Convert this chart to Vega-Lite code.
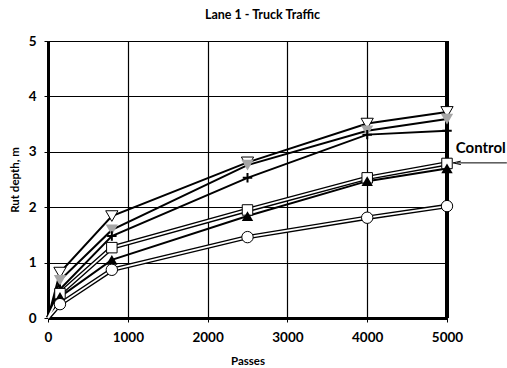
{
  "$schema": "https://vega.github.io/schema/vega-lite/v6.json",
  "width": 399,
  "height": 277,
  "autosize": "none",
  "padding": {"left": 48, "top": 41, "right": 60, "bottom": 50},
  "background": "white",
  "title": {
    "text": "Lane 1 - Truck Traffic",
    "font": "Lato",
    "fontSize": 12.5,
    "fontWeight": "bold",
    "color": "black",
    "anchor": "middle",
    "offset": 13,
    "dx": 15
  },
  "config": {
    "view": {"stroke": null},
    "axis": {
      "labelFont": "Lato",
      "labelFontSize": 13.5,
      "labelFontWeight": "bold",
      "labelColor": "black",
      "labelFlush": false,
      "titleFont": "Lato",
      "titleFontSize": 11.5,
      "titleFontWeight": "bold",
      "titleColor": "black",
      "domainColor": "black",
      "domainWidth": 3,
      "tickColor": "black",
      "tickSize": 4,
      "tickWidth": 1,
      "grid": true,
      "gridColor": "black",
      "gridOpacity": 1,
      "gridWidth": 1.2
    }
  },
  "datasets": {
    "rut": [
      {"series": "S1", "passes": 0, "rut": 0},
      {"series": "S1", "passes": 150, "rut": 0.82},
      {"series": "S1", "passes": 800, "rut": 1.84},
      {"series": "S1", "passes": 2500, "rut": 2.81},
      {"series": "S1", "passes": 4000, "rut": 3.51},
      {"series": "S1", "passes": 5000, "rut": 3.72},
      {"series": "S2", "passes": 0, "rut": 0},
      {"series": "S2", "passes": 150, "rut": 0.68},
      {"series": "S2", "passes": 800, "rut": 1.59},
      {"series": "S2", "passes": 2500, "rut": 2.76},
      {"series": "S2", "passes": 4000, "rut": 3.38},
      {"series": "S2", "passes": 5000, "rut": 3.59},
      {"series": "S3", "passes": 0, "rut": 0},
      {"series": "S3", "passes": 150, "rut": 0.52},
      {"series": "S3", "passes": 800, "rut": 1.48},
      {"series": "S3", "passes": 2500, "rut": 2.53},
      {"series": "S3", "passes": 4000, "rut": 3.31},
      {"series": "S3", "passes": 5000, "rut": 3.38},
      {"series": "Control", "passes": 0, "rut": 0},
      {"series": "Control", "passes": 150, "rut": 0.44},
      {"series": "Control", "passes": 800, "rut": 1.27},
      {"series": "Control", "passes": 2500, "rut": 1.95},
      {"series": "Control", "passes": 4000, "rut": 2.53},
      {"series": "Control", "passes": 5000, "rut": 2.79},
      {"series": "S4", "passes": 0, "rut": 0},
      {"series": "S4", "passes": 150, "rut": 0.38},
      {"series": "S4", "passes": 800, "rut": 1.05},
      {"series": "S4", "passes": 2500, "rut": 1.84},
      {"series": "S4", "passes": 4000, "rut": 2.47},
      {"series": "S4", "passes": 5000, "rut": 2.70},
      {"series": "S5", "passes": 0, "rut": 0},
      {"series": "S5", "passes": 150, "rut": 0.25},
      {"series": "S5", "passes": 800, "rut": 0.87},
      {"series": "S5", "passes": 2500, "rut": 1.46},
      {"series": "S5", "passes": 4000, "rut": 1.81},
      {"series": "S5", "passes": 5000, "rut": 2.02}
    ],
    "arrow": [
      {"passes": 5750, "rut": 2.8},
      {"passes": 5125, "rut": 2.8}
    ]
  },
  "data": {"name": "rut"},
  "encoding": {
    "x": {
      "field": "passes",
      "type": "quantitative",
      "scale": {"domain": [0, 5000], "nice": false},
      "axis": {"values": [0, 1000, 2000, 3000, 4000, 5000], "format": "d", "title": "Passes", "labelPadding": 8, "titlePadding": 12}
    },
    "y": {
      "field": "rut",
      "type": "quantitative",
      "scale": {"domain": [0, 5], "nice": false},
      "axis": {"values": [0, 1, 2, 3, 4, 5], "title": "Rut depth, m", "labelPadding": 8, "titlePadding": 8}
    }
  },
  "layer": [
    {
      "mark": {"type": "rule", "color": "black", "strokeWidth": 3},
      "encoding": {"x": {"datum": 5000}, "y": {"datum": 0}, "y2": {"datum": 5}}
    },
    {
      "transform": [{"filter": "indexof(['S1','S2','S3','S4'], datum.series) >= 0"}],
      "mark": {"type": "line", "color": "black", "strokeWidth": 2},
      "encoding": {"detail": {"field": "series"}}
    },
    {
      "transform": [{"filter": "datum.series === 'Control' || datum.series === 'S5'"}],
      "mark": {"type": "line", "color": "black", "strokeWidth": 4.5},
      "encoding": {"detail": {"field": "series"}}
    },
    {
      "transform": [{"filter": "datum.series === 'Control' || datum.series === 'S5'"}],
      "mark": {"type": "line", "color": "white", "strokeWidth": 1.8},
      "encoding": {"detail": {"field": "series"}}
    },
    {
      "transform": [{"filter": "datum.series === 'S1' && datum.passes > 0"}],
      "mark": {"type": "point", "shape": "triangle-down", "size": 150, "filled": true, "fill": "white", "stroke": "black", "strokeWidth": 1, "opacity": 1}
    },
    {
      "transform": [{"filter": "datum.series === 'S2' && datum.passes > 0"}],
      "mark": {"type": "point", "shape": "triangle-down", "size": 150, "filled": true, "fill": "#a6a6a6", "strokeWidth": 0, "opacity": 1}
    },
    {
      "transform": [{"filter": "datum.series === 'S3' && datum.passes > 0"}],
      "mark": {"type": "point", "shape": "M-1,0H1M0,-1V1", "size": 90, "filled": false, "stroke": "black", "strokeWidth": 2, "opacity": 1}
    },
    {
      "transform": [{"filter": "datum.series === 'Control' && datum.passes > 0"}],
      "mark": {"type": "point", "shape": "square", "size": 110, "filled": true, "fill": "white", "stroke": "black", "strokeWidth": 1, "opacity": 1}
    },
    {
      "transform": [{"filter": "datum.series === 'S4' && datum.passes > 0"}],
      "mark": {"type": "point", "shape": "triangle-up", "size": 130, "filled": true, "fill": "black", "strokeWidth": 0, "opacity": 1}
    },
    {
      "transform": [{"filter": "datum.series === 'S5' && datum.passes > 0"}],
      "mark": {"type": "point", "shape": "circle", "size": 130, "filled": true, "fill": "white", "stroke": "black", "strokeWidth": 1, "opacity": 1}
    },
    {
      "data": {"name": "arrow"},
      "mark": {"type": "line", "color": "black", "strokeWidth": 1},
      "encoding": {}
    },
    {
      "data": {"name": "arrow"},
      "transform": [{"filter": "datum.passes < 5500"}],
      "mark": {"type": "point", "shape": "M1,-0.45L-1,0L1,0.45", "size": 60, "filled": false, "stroke": "black", "strokeWidth": 1, "opacity": 1}
    },
    {
      "data": {"values": [{"passes": 5110, "rut": 3.07, "label": "Control"}]},
      "mark": {"type": "text", "align": "left", "baseline": "middle", "font": "Lato", "fontSize": 15, "fontWeight": "bold", "color": "black"},
      "encoding": {"text": {"field": "label"}}
    }
  ]
}
